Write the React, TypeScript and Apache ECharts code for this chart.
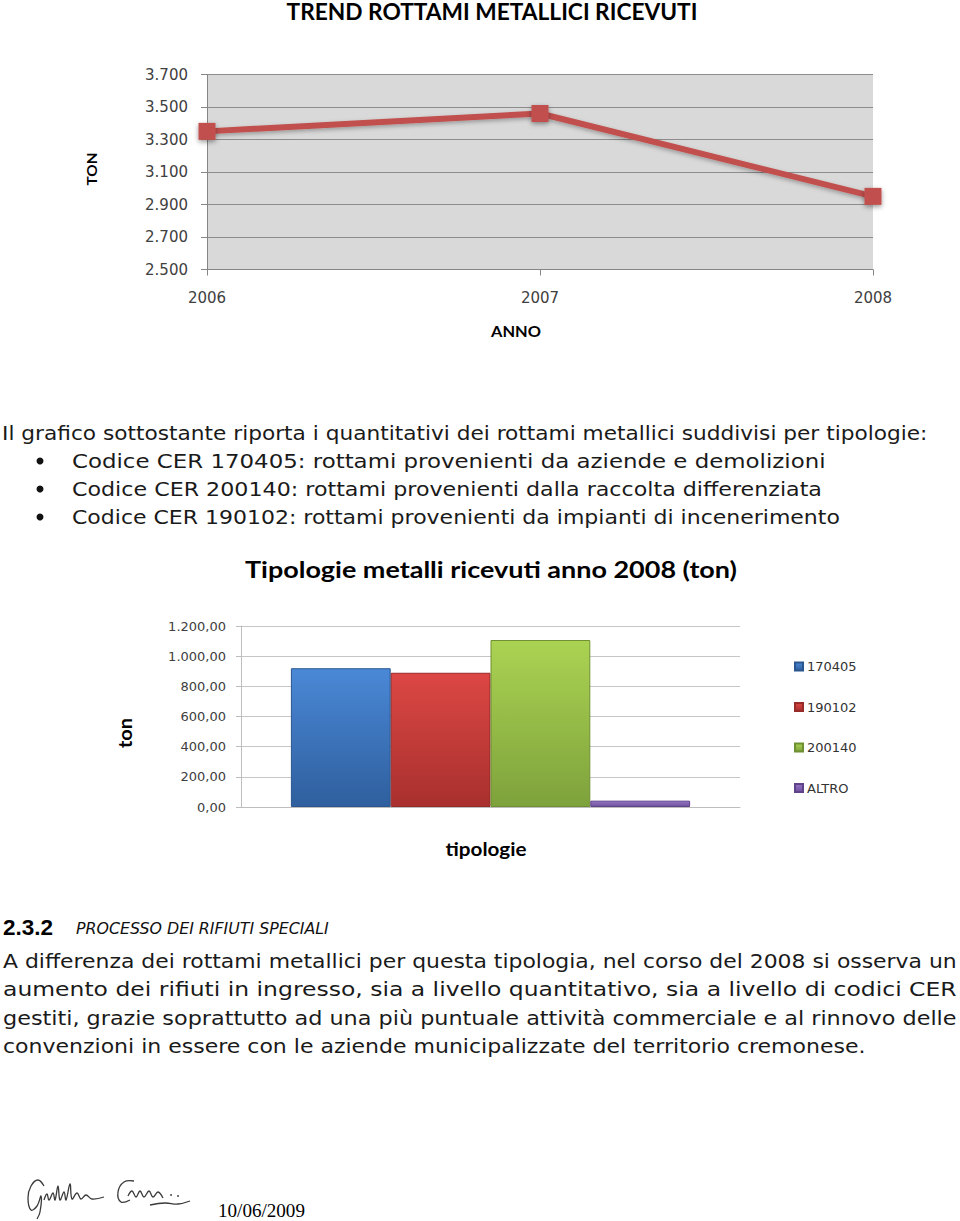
import React, { useEffect, useRef } from 'react';
import * as echarts from 'echarts';

// ---------- data ----------
const years = ['2006', '2007', '2008'];
const trendValues = [3350, 3460, 2950];
const trendMin = 2500;
const trendMax = 3700;
const trendStep = 200;

const typeCategory = ['2008'];
const typeNames = ['170405', '190102', '200140', 'ALTRO'];
const typeValues = [920, 890, 1107, 42];
const typeMax = 1200;
const typeStep = 200;

// ---------- texts ----------
const trendTitle = 'TREND ROTTAMI METALLICI RICEVUTI';
const trendYName = 'TON';
const trendXName = 'ANNO';
const typeTitle = 'Tipologie metalli ricevuti anno 2008 (ton)';
const typeYName = 'ton';
const typeXName = 'tipologie';
const introLine = 'Il grafico sottostante riporta i quantitativi dei rottami metallici suddivisi per tipologie:';
const bulletLines = [
  'Codice CER 170405: rottami provenienti da aziende e demolizioni',
  'Codice CER 200140: rottami provenienti dalla raccolta differenziata',
  'Codice CER 190102: rottami provenienti da impianti di incenerimento',
];
const sectionNumber = '2.3.2';
const sectionTitle = 'PROCESSO DEI RIFIUTI SPECIALI';
const paragraphLines = [
  'A differenza dei rottami metallici per questa tipologia, nel corso del 2008 si osserva un',
  'aumento dei rifiuti in ingresso, sia a livello quantitativo, sia a livello di codici CER',
  'gestiti, grazie soprattutto ad una più puntuale attività commerciale e al rinnovo delle',
  'convenzioni in essere con le aziende municipalizzate del territorio cremonese.',
];
const dateText = '10/06/2009';

const typeColors = [
  ['#4a88d6', '#2f5f9e', '#2a5690'],
  ['#dc4744', '#a8302e', '#962b29'],
  ['#abd352', '#7ea23c', '#6f8f33'],
  ['#9475c4', '#6f4f9e', '#5e428a'],
];

const SANS = '"DejaVu Sans"';
const LATO = 'Lato';
const SERIF = '"Liberation Serif"';

let ctx: CanvasRenderingContext2D | null = null;
function measure(text: string, size: number, family: string, weight = 'normal', style = 'normal') {
  if (!ctx) ctx = document.createElement('canvas').getContext('2d');
  ctx!.font = `${style} ${weight} ${size}px ${family}`;
  return ctx!.measureText(text).width;
}

type TO = {
  size: number;
  family: string;
  weight?: string;
  fstyle?: string;
  color?: string;
  align?: string;
  rotation?: number;
  lineHeight?: number;
};

function fitText(text: string, x: number, y: number, width: number, o: TO) {
  const w = measure(text, o.size, o.family, o.weight || 'normal', o.fstyle || 'normal');
  const style: any = {
    text,
    fill: o.color || '#111',
    fontSize: o.size,
    fontFamily: o.family,
    fontWeight: o.weight || 'normal',
    fontStyle: o.fstyle || 'normal',
    align: o.align || 'left',
    textAlign: o.align || 'left',
    verticalAlign: 'middle',
    textVerticalAlign: 'middle',
  };
  if (o.lineHeight) style.lineHeight = o.lineHeight;
  return {
    type: 'text',
    x,
    y,
    scaleX: width / w,
    rotation: o.rotation || 0,
    z: 10,
    style,
  };
}

function thousands(v: number) {
  const s = Math.round(v).toString();
  return s.replace(/\B(?=(\d{3})+(?!\d))/g, '.');
}

export default function App() {
  const ref = useRef<HTMLDivElement>(null);

  useEffect(() => {
    if (!ref.current) return;
    const chart = echarts.init(ref.current, undefined, { renderer: 'svg' });

    const graphics: any[] = [];
    // chart titles & axis names
    graphics.push(fitText(trendTitle, 492, 12, 411, { size: 22, family: LATO, weight: 'bold', align: 'center', color: '#000', lineHeight: 22 }));
    graphics.push(fitText(trendYName, 92, 169, 33, { size: 14, family: LATO, weight: 'bold', align: 'center', color: '#000', rotation: Math.PI / 2 }));
    graphics.push(fitText(trendXName, 516, 331, 50, { size: 15, family: LATO, weight: 'bold', align: 'center', color: '#000' }));
    graphics.push(fitText(typeTitle, 491, 570, 492, { size: 22, family: LATO, weight: 'bold', align: 'center', color: '#000' }));
    graphics.push(fitText(typeYName, 125, 733, 30, { size: 18, family: LATO, weight: 'bold', align: 'center', color: '#000', rotation: Math.PI / 2 }));
    graphics.push(fitText(typeXName, 486, 849, 81, { size: 18, family: LATO, weight: 'bold', align: 'center', color: '#000' }));

    // body text
    graphics.push(fitText(introLine, 2, 433, 926, { size: 20, family: SANS, color: '#1a1a1a' }));
    const bulletY = [461, 489, 517];
    const bulletW = [754, 750, 768];
    bulletLines.forEach((t, i) => {
      graphics.push({ type: 'circle', shape: { cx: 40, cy: bulletY[i], r: 3.5 }, style: { fill: '#111' }, z: 10 });
      graphics.push(fitText(t, 72, bulletY[i], bulletW[i], { size: 20, family: SANS, color: '#1a1a1a' }));
    });

    graphics.push(fitText(sectionNumber, 3, 928, 50, { size: 22, family: '"Liberation Sans"', weight: 'bold', color: '#000' }));
    graphics.push(fitText(sectionTitle, 76, 929, 253, { size: 15, family: SANS, fstyle: 'italic', color: '#111' }));
    const paraY = [961, 989, 1018, 1046];
    const paraW = [954, 954, 954, 863];
    paragraphLines.forEach((t, i) => {
      graphics.push(fitText(t, 3, paraY[i], paraW[i], { size: 20, family: SANS, color: '#1a1a1a' }));
    });

    // signature (decorative scribble)
    const sig = [
      [[44, 1186], [38, 1180], [31, 1186], [28, 1198], [31, 1210], [37, 1206], [41, 1196], [40, 1212], [37, 1219]],
      [[44, 1200], [47, 1194], [49, 1200], [53, 1193], [55, 1200], [58, 1186], [60, 1200], [64, 1192], [66, 1200], [70, 1184], [72, 1199], [77, 1193], [81, 1199], [86, 1195], [92, 1199], [104, 1197]],
      [[134, 1181], [124, 1182], [118, 1192], [121, 1202], [130, 1200]],
      [[128, 1196], [132, 1191], [136, 1197], [140, 1191], [144, 1197], [149, 1191], [153, 1197], [158, 1192], [163, 1198]],
      [[150, 1205], [165, 1203], [178, 1204], [190, 1201]],
    ];
    sig.forEach((pts) => {
      graphics.push({ type: 'polyline', shape: { points: pts, smooth: 0.4 }, style: { stroke: '#3a3a3a', lineWidth: 1.3, fill: null }, z: 10 });
    });
    graphics.push({ type: 'circle', shape: { cx: 171, cy: 1195, r: 0.9 }, style: { fill: '#3a3a3a' }, z: 10 });
    graphics.push({ type: 'circle', shape: { cx: 178, cy: 1196, r: 0.9 }, style: { fill: '#3a3a3a' }, z: 10 });
    graphics.push(fitText(dateText, 218, 1211, 87, { size: 18, family: SERIF, color: '#000', lineHeight: 16 }));

    const option: any = {
      animation: false,
      backgroundColor: '#ffffff',
      graphic: { elements: graphics },
      grid: [
        { left: 207, top: 74.5, width: 666, height: 195, show: true, backgroundColor: '#d9d9d9', borderWidth: 0 },
        { left: 241, top: 626, width: 499, height: 181 },
      ],
      legend: {
        data: typeNames,
        orient: 'vertical',
        left: 789,
        top: 655,
        itemWidth: 8,
        itemHeight: 8,
        itemGap: 27.5,
        icon: 'rect',
        textStyle: { fontSize: 13, fontFamily: SANS, color: '#333', padding: [0, 0, 0, -1] },
      },
      xAxis: [
        {
          gridIndex: 0,
          type: 'category',
          data: years,
          boundaryGap: false,
          axisLine: { show: true, lineStyle: { color: '#868686', width: 1 } },
          axisTick: { show: true, length: 6, lineStyle: { color: '#868686' } },
          axisLabel: { fontSize: 15, fontFamily: SANS, color: '#404040', margin: 21 },
          splitLine: { show: false },
        },
        {
          gridIndex: 1,
          type: 'category',
          data: typeCategory,
          axisLine: { show: true, lineStyle: { color: '#bdbdbd', width: 1 } },
          axisTick: { show: false },
          axisLabel: { show: false },
        },
      ],
      yAxis: [
        {
          gridIndex: 0,
          type: 'value',
          min: trendMin,
          max: trendMax,
          interval: trendStep,
          axisLine: { show: true, lineStyle: { color: '#868686', width: 1 } },
          axisTick: { show: true, length: 6, lineStyle: { color: '#868686' } },
          axisLabel: { fontSize: 15, fontFamily: SANS, color: '#404040', margin: 19, formatter: (v: number) => thousands(v) },
          splitLine: { show: true, lineStyle: { color: '#8c8c8c', width: 1 } },
        },
        {
          gridIndex: 1,
          type: 'value',
          min: 0,
          max: typeMax,
          interval: typeStep,
          axisLine: { show: true, lineStyle: { color: '#bdbdbd', width: 1 } },
          axisTick: { show: true, length: 5, lineStyle: { color: '#bdbdbd' } },
          axisLabel: { fontSize: 13, fontFamily: SANS, color: '#404040', margin: 15, formatter: (v: number) => thousands(v) + ',00' },
          splitLine: { show: true, lineStyle: { color: '#c6c6c6', width: 1 } },
        },
      ],
      series: [
        {
          name: 'trend',
          type: 'line',
          xAxisIndex: 0,
          yAxisIndex: 0,
          data: trendValues,
          symbol: 'rect',
          symbolSize: 17,
          lineStyle: { color: '#c0504d', width: 6, shadowColor: 'rgba(0,0,0,0.3)', shadowBlur: 4, shadowOffsetY: 2 },
          itemStyle: { color: '#c0504d', shadowColor: 'rgba(0,0,0,0.4)', shadowBlur: 5, shadowOffsetY: 2 },
          z: 5,
        },
        ...typeNames.map((name, i) => ({
          name,
          type: 'bar',
          xAxisIndex: 1,
          yAxisIndex: 1,
          data: [typeValues[i]],
          barGap: '0%',
          barCategoryGap: '20%',
          itemStyle: {
            color: new echarts.graphic.LinearGradient(0, 0, 0, 1, [
              { offset: 0, color: typeColors[i][0] },
              { offset: 1, color: typeColors[i][1] },
            ]),
            borderColor: typeColors[i][2],
            borderWidth: 1,
          },
        })),
      ],
    };

    chart.setOption(option);
    return () => chart.dispose();
  }, []);

  return (
    <div
      ref={ref}
      style={{ position: 'absolute', left: 0, top: 0, width: 960, height: 1221, background: '#fff' }}
    />
  );
}
